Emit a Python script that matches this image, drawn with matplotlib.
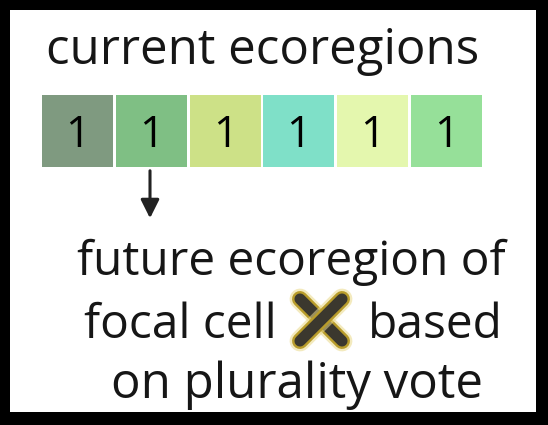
import matplotlib.pyplot as plt
from matplotlib import patheffects as pe
from matplotlib.patches import Rectangle, FancyArrowPatch

# cell contents of the current-ecoregion strip
CELL_COLORS = ["#7f9a80", "#7fbf84", "#cde187", "#7fe0c8", "#e4f7ae", "#96e099"]
CELL_LABELS = ["1", "1", "1", "1", "1", "1"]
TITLE = "current ecoregions"
CAPTION = ["future ecoregion of", "focal cell", "based", "on plurality vote"]

W, H = 548, 425
fig = plt.figure(figsize=(W / 100, H / 100), dpi=100)
fig.patch.set_facecolor("black")
ax = fig.add_axes([0, 0, 1, 1])
ax.set_xlim(0, W)
ax.set_ylim(H, 0)
ax.axis("off")

# white panel inside the black frame
ax.add_patch(Rectangle((10, 10), 526, 402, facecolor="white", edgecolor="none"))

font = "Open Sans"
txt = dict(family=font, color="#161616", va="baseline")
ax.text(46, 64, TITLE, fontsize=35.5, ha="left", **txt)

x0, w, gap = 42, 71, 2.8
for i, (c, lab) in enumerate(zip(CELL_COLORS, CELL_LABELS)):
    x = x0 + i * (w + gap)
    ax.add_patch(Rectangle((x, 95), w, 72, facecolor=c, edgecolor="none"))
    ax.text(x + w / 2, 136, lab, fontsize=31, family=font, ha="center",
            va="center", color="black")

# arrow from the focal cell down to the caption
ax.add_patch(FancyArrowPatch((150, 168), (150, 221), arrowstyle="-|>",
                             mutation_scale=28, color="#222222", lw=2.2))

ax.text(291, 275, CAPTION[0], fontsize=34.5, ha="center", **txt)
ax.text(277, 338, CAPTION[1], fontsize=34.5, ha="right", **txt)
ax.text(368, 338, CAPTION[2], fontsize=34.5, ha="left", **txt)
ax.text(297, 398, CAPTION[3], fontsize=35.5, ha="center", **txt)

# focal cell marker: dark X with olive glow
glow = [pe.Stroke(linewidth=15, foreground="#ead98a", alpha=0.55),
        pe.Stroke(linewidth=11.5, foreground="#b89c2a"), pe.Normal()]
for (xa, ya, xb, yb) in [(300, 299, 342, 341), (300, 341, 342, 299)]:
    ax.plot([xa, xb], [ya, yb], color="#3b382e", lw=8,
            solid_capstyle="round", path_effects=glow)

fig.savefig("out.png", dpi=100, facecolor=fig.get_facecolor())
